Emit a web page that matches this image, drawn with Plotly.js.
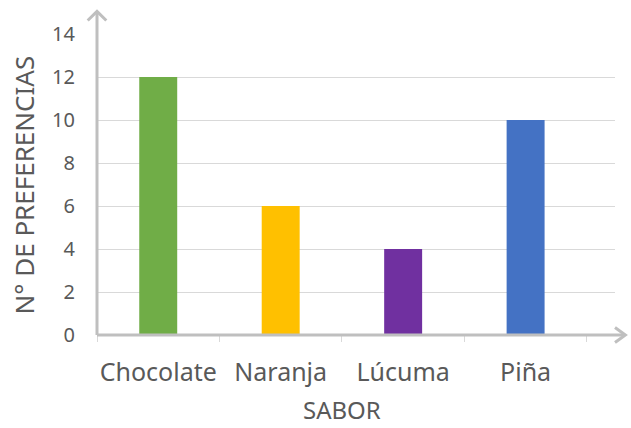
<!DOCTYPE html>
<html><head><meta charset="utf-8">
<script src="https://cdn.plot.ly/plotly-3.0.1.min.js"></script>
<style>html,body{margin:0;padding:0;background:#fff;}#chart{width:631px;height:428px;}</style>
</head><body><div id="chart"></div>
<script>
const categories = ["Chocolate", "Naranja", "Lúcuma", "Piña"];
const values = [12, 6, 4, 10];
const barColors = ["#70AD47", "#FFC000", "#7030A0", "#4472C4"];
const yTicks = [0, 2, 4, 6, 8, 10, 12, 14];
const xTitle = "SABOR";
const yTitle = "N° DE PREFERENCIAS";

const font = "Noto Sans, sans-serif";
const textColor = "#595959";
const axisColor = "#BFBFBF";

const trace = {
  type: "bar", x: categories, y: values,
  marker: {color: barColors, line: {width: 0}},
  hoverinfo: "none"
};

const layout = {
  width: 631, height: 428,
  margin: {l: 97, r: 16, t: 34, b: 93, pad: 0},
  paper_bgcolor: "#fff", plot_bgcolor: "#fff",
  bargap: 0.69,
  showlegend: false,
  font: {family: font, color: textColor},
  xaxis: {
    type: "category", range: [-0.5, 3.73],
    showgrid: false, zeroline: false, showline: false,
    ticks: "outside", tickson: "boundaries", ticklen: 6, tickcolor: "#D9D9D9", tickwidth: 1,
    tickangle: 0, automargin: false,
    tickfont: {size: 25, color: textColor, family: font},
    ticklabelstandoff: 20
  },
  yaxis: {
    range: [0, 14], tickvals: yTicks, ticktext: yTicks.map(String),
    showgrid: true, gridcolor: "#D9D9D9", gridwidth: 1,
    zeroline: false, showline: false, ticks: "",
    tickfont: {size: 20, color: textColor, family: font},
    ticklabelstandoff: 21
  },
  annotations: [
    {text: xTitle, xref: "x", x: 1.5, yref: "paper", y: -0.249,
     yanchor: "middle", xanchor: "center", showarrow: false,
     font: {size: 24, color: textColor, family: font}},
    {text: yTitle, xref: "paper", x: -0.141, yref: "paper", y: 0.5, textangle: -90,
     yanchor: "middle", xanchor: "center", showarrow: false,
     font: {size: 26, color: textColor, family: font}}
  ],
  shapes: [
    {type: "line", xref: "paper", yref: "paper", x0: 0, x1: 0, y0: 0, y1: 1.07, line: {color: axisColor, width: 3}},
    {type: "path", xref: "paper", yref: "paper",
     path: "M -0.018 1.045 L 0 1.075 L 0.018 1.045", line: {color: axisColor, width: 3}},
    {type: "line", xref: "paper", yref: "paper", x0: 0, x1: 1.018, y0: 0, y1: 0, line: {color: axisColor, width: 3}},
    {type: "path", xref: "paper", yref: "paper",
     path: "M 1.0 0.025 L 1.02 0 L 1.0 -0.025", line: {color: axisColor, width: 3}}
  ]
};

Plotly.newPlot("chart", [trace], layout, {staticPlot: true, displayModeBar: false});
</script></body></html>
